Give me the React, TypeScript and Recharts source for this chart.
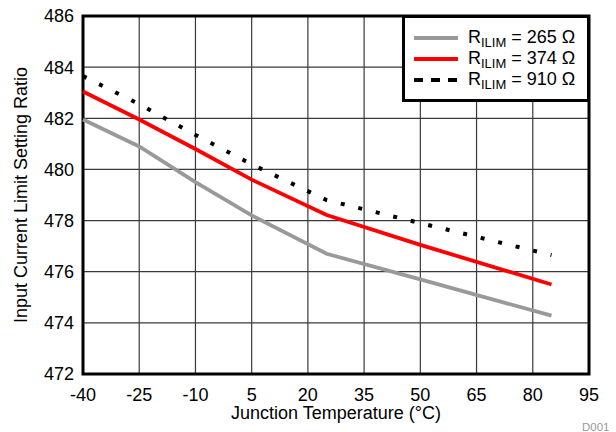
import React from 'react';
import { LineChart, Line, XAxis, YAxis, CartesianGrid, ReferenceArea, Legend, Label } from 'recharts';

const temperatures = [-40, -25, -10, 5, 25, 50, 85];
const ratio265 = [481.95, 480.9, 479.5, 478.2, 476.7, 475.7, 474.28];
const ratio374 = [483.05, 481.95, 480.8, 479.6, 478.22, 477.05, 475.5];
const ratio910 = [483.65, 482.55, 481.35, 480.2, 478.8, 477.9, 476.65];
const xTicks = [-40, -25, -10, 5, 20, 35, 50, 65, 80, 95];
const yTicks = [472, 474, 476, 478, 480, 482, 484, 486];
const resistorValues = ['265', '374', '910'];

const series = [
  { key: 'r265', values: ratio265, name: resistorValues[0], color: '#999999', width: 3.8, dash: undefined as string | undefined, legendDash: undefined as string | undefined },
  { key: 'r374', values: ratio374, name: resistorValues[1], color: '#ff0000', width: 3.8, dash: undefined, legendDash: undefined },
  { key: 'r910', values: ratio910, name: resistorValues[2], color: '#000000', width: 4, dash: '4 14', legendDash: '9 8' },
];

const data = temperatures.map((t, i) => {
  const row: Record<string, number> = { t };
  series.forEach((s) => {
    row[s.key] = s.values[i];
  });
  return row;
});

const FONT = '"Liberation Sans", Arial, Helvetica, sans-serif';

const LegendBox = () => (
  <div
    style={{
      boxSizing: 'border-box',
      width: 188,
      height: 87,
      border: '3px solid #000',
      background: '#fff',
      paddingTop: 9,
      paddingLeft: 9,
      fontFamily: FONT,
      fontSize: 18,
      color: '#000',
    }}
  >
    {series.map((s) => (
      <div key={s.key} style={{ display: 'flex', alignItems: 'center', height: 21, whiteSpace: 'nowrap' }}>
        <svg width={44} height={6} style={{ marginRight: 10, flex: 'none' }}>
          <line x1={0} y1={3} x2={44} y2={3} stroke={s.color} strokeWidth={4} strokeDasharray={s.legendDash} />
        </svg>
        <span style={{ lineHeight: '21px' }}>
          R<sub style={{ fontSize: 13, verticalAlign: '-4px', lineHeight: 0 }}>ILIM</sub> = {s.name} Ω
        </span>
      </div>
    ))}
  </div>
);

const YLabel = (props: any) => {
  const vb = props.viewBox || {};
  const cy = vb.y + vb.height / 2;
  const x = 27;
  return (
    <text x={x} y={cy} transform={`rotate(-90, ${x}, ${cy})`} textAnchor="middle" fontSize={18} fontFamily={FONT} fill="#000">
      Input Current Limit Setting Ratio
    </text>
  );
};

const XLabel = (props: any) => {
  const vb = props.viewBox || {};
  const cx = vb.x + vb.width / 2;
  return (
    <text x={cx} y={419} textAnchor="middle" fontSize={18} fontFamily={FONT} fill="#000">
      Junction Temperature (°C)
    </text>
  );
};

export default function App() {
  return (
    <div style={{ position: 'absolute', left: 0, top: 0, width: 616, height: 432, background: '#fff' }}>
      <LineChart width={616} height={432} data={data} margin={{ top: 16, right: 27, bottom: 0, left: 0 }} style={{ fontFamily: FONT }}>
        <CartesianGrid stroke="#3a3a3a" strokeWidth={1.2} />
        <XAxis
          type="number"
          dataKey="t"
          domain={[-40, 95]}
          ticks={xTicks}
          interval={0}
          axisLine={false}
          tickLine={false}
          tickSize={0}
          tickMargin={14}
          tick={{ fill: '#000', fontSize: 18, fontFamily: FONT }}
          height={58}
        >
          <Label content={<XLabel />} />
        </XAxis>
        <YAxis
          type="number"
          domain={[472, 486]}
          ticks={yTicks}
          interval={0}
          axisLine={false}
          tickLine={false}
          tickSize={0}
          tickMargin={9}
          width={83}
          tick={{ fill: '#000', fontSize: 18, fontFamily: FONT }}
        >
          <Label content={<YLabel />} />
        </YAxis>
        {series.map((s) => (
          <Line
            key={s.key}
            dataKey={s.key}
            name={s.name}
            type="linear"
            stroke={s.color}
            strokeWidth={s.width}
            strokeDasharray={s.dash}
            dot={false}
            activeDot={false}
            isAnimationActive={false}
          />
        ))}
        <ReferenceArea x1={-40} x2={95} y1={472} y2={486} fill="none" stroke="#000" strokeWidth={3} ifOverflow="visible" />
        <Legend
          layout="horizontal"
          verticalAlign="middle"
          align="center"
          width={188}
          content={<LegendBox />}
          wrapperStyle={{ position: 'absolute', left: 402, top: 15, width: 188, height: 87 }}
        />
        <text x={582} y={431} fontSize={11.5} fontFamily={FONT} fill="#999">D001</text>
      </LineChart>
    </div>
  );
}
